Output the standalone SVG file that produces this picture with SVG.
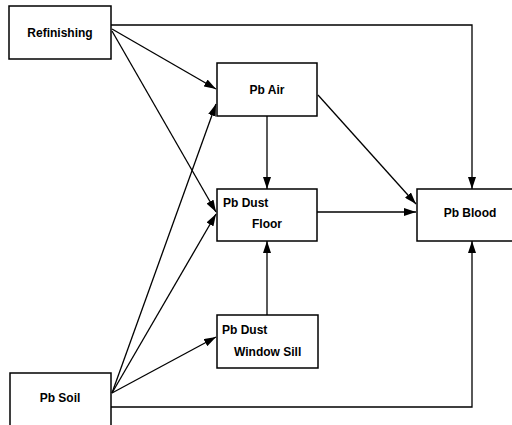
<svg xmlns="http://www.w3.org/2000/svg" width="512" height="425" viewBox="0 0 512 425">
<style>
.box{fill:#fff;stroke:#000;stroke-width:1.5}
.t{font-family:"Liberation Sans",Arial,sans-serif;font-size:12px;font-weight:bold;fill:#000}
.c{fill:none;stroke:#000;stroke-width:1.3;marker-end:url(#ah)}
.p{fill:none;stroke:#000;stroke-width:1.3}
</style>
<defs>
<marker id="ah" markerWidth="12" markerHeight="8" refX="12" refY="4" orient="auto" markerUnits="userSpaceOnUse">
<path d="M0,0 L12,4 L0,8 Z" fill="#000"/>
</marker>
</defs>
<rect width="512" height="425" fill="#fff"/>
<g id="connectors">
<polyline class="c" points="111,25 472,25 472,189"/>
<line class="c" x1="112" y1="29" x2="216" y2="89"/>
<line class="c" x1="112" y1="31" x2="216" y2="212"/>
<line class="c" x1="112" y1="393" x2="216" y2="104"/>
<line class="c" x1="112" y1="393" x2="216" y2="214"/>
<line class="c" x1="112" y1="393" x2="216" y2="337"/>
<polyline class="c" points="111,407 472,407 472,241"/>
<line class="c" x1="267" y1="116" x2="267" y2="189"/>
<line class="c" x1="318" y1="95" x2="416" y2="204"/>
<line class="c" x1="317" y1="212" x2="416" y2="212"/>
<line class="c" x1="267" y1="315" x2="267" y2="241"/>
</g>
<g id="refinishing">
<rect class="box" x="9" y="6" width="102" height="53"/>
<text class="t" x="60" y="37" text-anchor="middle">Refinishing</text>
</g>
<g id="pb-air">
<rect class="box" x="217" y="63" width="100" height="53"/>
<text class="t" x="267" y="94" text-anchor="middle">Pb Air</text>
</g>
<g id="pb-dust-floor">
<rect class="box" x="217" y="189" width="100" height="52"/>
<text class="t" x="223" y="207">Pb Dust</text>
<text class="t" x="252" y="228">Floor</text>
</g>
<g id="pb-dust-window-sill">
<rect class="box" x="217" y="315" width="101" height="53"/>
<text class="t" x="222" y="334">Pb Dust</text>
<text class="t" x="234" y="356">Window Sill</text>
</g>
<g id="pb-blood">
<rect class="box" x="417" y="189" width="100" height="52"/>
<text class="t" x="470" y="217" text-anchor="middle">Pb Blood</text>
</g>
<g id="pb-soil">
<rect class="box" x="10" y="373" width="101" height="60"/>
<text class="t" x="60" y="402" text-anchor="middle">Pb Soil</text>
</g>
</svg>
